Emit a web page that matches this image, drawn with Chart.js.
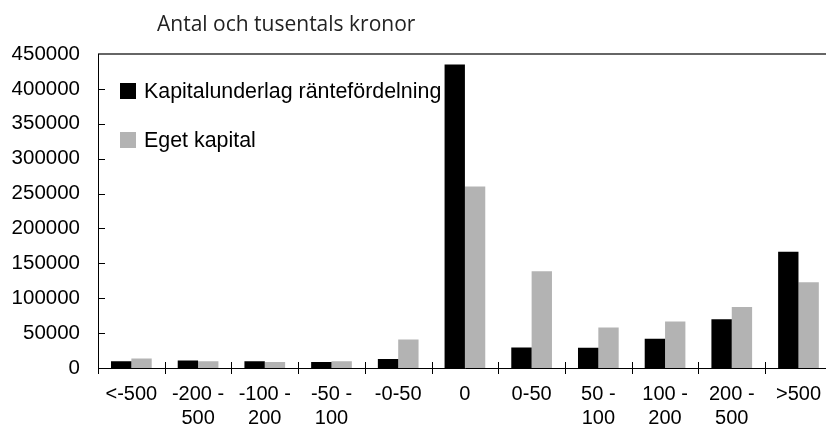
<!DOCTYPE html>
<html>
<head>
<meta charset="utf-8">
<script src="https://cdn.jsdelivr.net/npm/chart.js@4/dist/chart.umd.min.js"></script>
<style>
html,body{margin:0;padding:0;background:#fff;overflow:hidden;width:826px;height:426px;}
canvas{display:block;}
</style>
</head>
<body>
<canvas id="c" width="835" height="426" style="width:835px;height:426px"></canvas>
<script>
const categories = ["<-500", ["-200 -", "500"], ["-100 -", "200"], ["-50 -", "100"], "-0-50", "0", "0-50", ["50 -", "100"], ["100 -", "200"], ["200 -", "500"], ">500"];
const kapitalunderlag = [9500, 10700, 9500, 8500, 12800, 435000, 29500, 29000, 42000, 70000, 166500];
const egetKapital = [13500, 9500, 8500, 9500, 40700, 260000, 138500, 58000, 66500, 87500, 123000];
const seriesNames = ["Kapitalunderlag räntefördelning", "Eget kapital"];
const titleText = "Antal och tusentals kronor";
const yMax = 450000, yStep = 50000;

const FONT = "'Liberation Sans', Arial, sans-serif";

const decor = {
  id: 'decor',
  afterDatasetsDraw(chart) {
    const ctx = chart.ctx, a = chart.chartArea;
    const xs = chart.scales.x, ys = chart.scales.y;
    ctx.save();
    ctx.strokeStyle = '#333';
    ctx.lineWidth = 1.5;
    ctx.beginPath(); ctx.moveTo(a.left, a.top); ctx.lineTo(a.right, a.top); ctx.stroke();
    ctx.strokeStyle = '#000';
    ctx.lineWidth = 1;
    ctx.beginPath();
    ctx.moveTo(a.left + 0.5, a.top); ctx.lineTo(a.left + 0.5, a.bottom + 0.5);
    ctx.lineTo(a.right, a.bottom + 0.5);
    ctx.stroke();
    ctx.beginPath();
    for (let v = yStep; v < yMax; v += yStep) {
      const y = Math.round(ys.getPixelForValue(v)) + 0.5;
      ctx.moveTo(a.left, y); ctx.lineTo(a.left + 7, y);
    }
    const n = categories.length;
    for (let i = 0; i <= n; i++) {
      let x;
      if (i === 0) x = a.left;
      else if (i === n) x = a.right;
      else x = (xs.getPixelForValue(i - 1) + xs.getPixelForValue(i)) / 2;
      x = Math.round(x) + 0.5;
      ctx.moveTo(x, a.bottom - 6); ctx.lineTo(x, a.bottom + 6);
    }
    ctx.stroke();
    ctx.fillStyle = '#222';
    ctx.font = "21px 'Open Sans', sans-serif";
    ctx.textBaseline = 'alphabetic';
    ctx.textAlign = 'left';
    ctx.fillText(titleText, 157, 31);
    const colors = [chart.data.datasets[0].backgroundColor, chart.data.datasets[1].backgroundColor];
    const ly = [83, 132];
    ctx.font = "21.4px " + FONT;
    ctx.textBaseline = 'middle';
    for (let i = 0; i < 2; i++) {
      ctx.fillStyle = colors[i];
      ctx.fillRect(120, ly[i], 16, 16);
      ctx.fillStyle = '#000';
      ctx.fillText(chart.data.datasets[i].label, 144, ly[i] + 9);
    }
    ctx.restore();
  }
};

new Chart(document.getElementById('c'), {
  type: 'bar',
  data: {
    labels: categories,
    datasets: [
      { label: seriesNames[0], data: kapitalunderlag, backgroundColor: '#000000', borderWidth: 0 },
      { label: seriesNames[1], data: egetKapital, backgroundColor: '#b3b3b3', borderWidth: 0 }
    ]
  },
  options: {
    responsive: false,
    animation: false,
    devicePixelRatio: 1,
    layout: { padding: { top: 54, left: 0, right: 0, bottom: 0 } },
    plugins: { legend: { display: false }, title: { display: false }, tooltip: { enabled: false } },
    datasets: { bar: { categoryPercentage: 0.61, barPercentage: 1 } },
    scales: {
      x: {
        grid: { display: false, drawTicks: false },
        border: { display: false },
        ticks: { color: '#000', font: { family: FONT, size: 20 }, padding: 14, maxRotation: 0, autoSkip: false },
        afterFit(s) { s.height = 58; }
      },
      y: {
        min: 0, max: yMax,
        grid: { display: false, drawTicks: false },
        border: { display: false },
        ticks: { stepSize: yStep, color: '#000', font: { family: FONT, size: 20.5 }, padding: 18,
                 callback: (v) => String(v) },
        afterFit(s) { s.width = 98; }
      }
    }
  },
  plugins: [decor]
});
</script>
</body>
</html>
